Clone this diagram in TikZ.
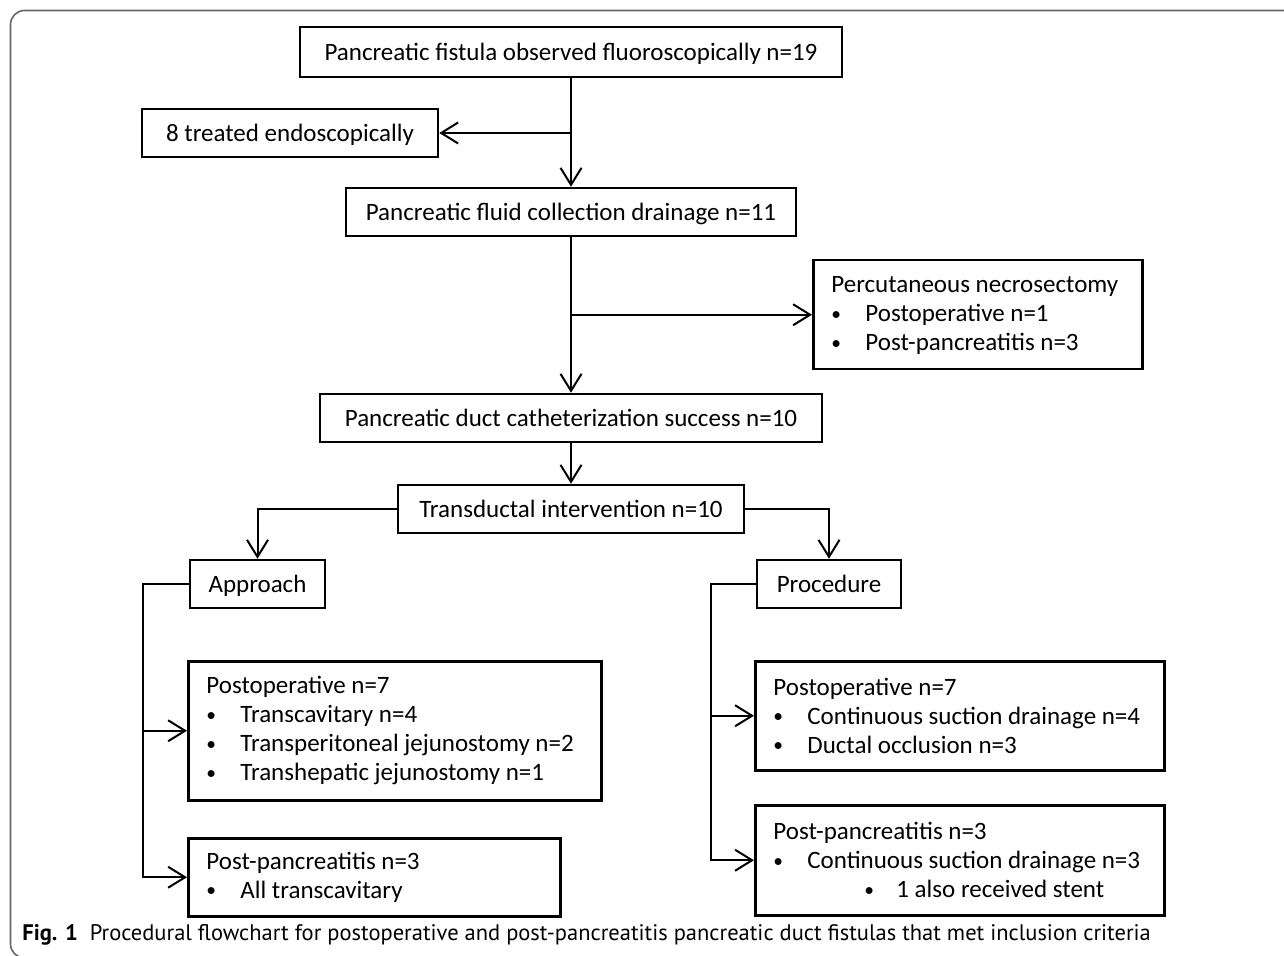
\documentclass[tikz,border=0pt]{standalone}
\usepackage{fontspec}
\setmainfont{Carlito}
\newfontfamily\capfont{PT Sans}
\usetikzlibrary{arrows.meta}
\newcommand\bl{\makebox[17pt][l]{\raisebox{0.07em}{\scalebox{0.78}{\textbullet}}}}
\newcommand\sbl{\hspace*{45.5pt}\makebox[16pt][l]{\raisebox{0.07em}{\scalebox{0.78}{\textbullet}}}}
\begin{document}
\begin{tikzpicture}[x=0.5pt,y=-0.5pt,
  txt/.style={font=\fontsize{12.5}{14.5}\selectfont},
  box/.style={draw, line width=1.25pt, inner sep=0pt, txt, text height=0.9em, text depth=0.08em},
  frm/.style={draw, line width=1.25pt, inner sep=0pt, anchor=north west},
  ltext/.style={txt, align=flush left, inner sep=0pt, anchor=west},
  conn/.style={line width=1pt},
  arr/.style={conn, -{Straight Barb[length=8.5pt,width=10.5pt,line width=1pt]}},
  frame/.style={draw=black!60, line width=0.8pt}]
\useasboundingbox (0,0) rectangle (1284,956);
\draw[frame, rounded corners=7pt] (1300,10.5) -- (10.5,10.5) -- (10.5,958) -- (40,958);

\node[box, minimum width=271pt, minimum height=25pt] (b1) at (571,52) {Pancreatic fistula observed fluoroscopically n=19};
\node[box, minimum width=148pt, minimum height=24pt] (endo) at (290,133) {8 treated endoscopically};
\node[box, minimum width=225pt, minimum height=24pt] (b2) at (571,212) {Pancreatic fluid collection drainage n=11};
\node[frm, minimum width=164.5pt, minimum height=54.5pt] (necro) at (812,259) {};
\node[ltext] (necroT) at ([xshift=9.5pt,yshift=-0.5pt]necro.west)
  {Percutaneous necrosectomy\\ \bl Postoperative n=1\\ \bl Post-pancreatitis n=3};
\node[box, minimum width=251pt, minimum height=24pt] (b4) at (571,418) {Pancreatic duct catheterization success n=10};
\node[box, minimum width=173pt, minimum height=24pt] (trans) at (571,509) {Transductal intervention n=10};
\node[box, minimum width=67.5pt, minimum height=24pt] (appr) at (257.5,584) {Approach};
\node[box, minimum width=72pt, minimum height=24pt] (proc) at (829,584) {Procedure};
\node[frm, minimum width=206.5pt, minimum height=69.5pt] (opL) at (187,660) {};
\node[ltext] (opLT) at ([xshift=9.5pt]opL.west)
  {Postoperative n=7\\ \bl Transcavitary n=4\\ \bl Transperitoneal jejunostomy n=2\\ \bl Transhepatic jejunostomy n=1};
\node[frm, minimum width=186pt, minimum height=39pt] (pancL) at (187,837) {};
\node[ltext] (pancLT) at ([xshift=9.5pt]pancL.west)
  {Post-pancreatitis n=3\\ \bl All transcavitary};
\node[frm, minimum width=204.5pt, minimum height=54.5pt] (opR) at (754,660) {};
\node[ltext] (opRT) at ([xshift=9.5pt]opR.west)
  {Postoperative n=7\\ \bl Continuous suction drainage n=4\\ \bl Ductal occlusion n=3};
\node[frm, minimum width=204.5pt, minimum height=55pt] (pancR) at (754,804) {};
\node[ltext] (pancRT) at ([xshift=9.5pt]pancR.west)
  {Post-pancreatitis n=3\\ \bl Continuous suction drainage n=3\\ \sbl 1 also received stent};

\node[anchor=west, inner sep=0pt, font=\capfont\fontsize{11.25}{13}\selectfont] (cap) at (22,935)
  {\textbf{Fig. 1}\hspace{6pt}Procedural flowchart for postoperative and post-pancreatitis pancreatic duct fistulas that met inclusion criteria};

\coordinate (j1) at (b1.south |- endo.east);
\coordinate (j2) at (b2.south |- necro.west);
\coordinate (aL) at (143,584);
\coordinate (pL) at (711,584);

\draw[arr] (b1.south) -- (b2.north);
\draw[arr] (j1) -- (endo.east);
\draw[arr] (b2.south) -- (b4.north);
\draw[arr] (j2) -- (necro.west);
\draw[arr] (b4.south) -- (trans.north);
\draw[arr] (trans.west) -| (appr.north);
\draw[arr] (trans.east) -| (proc.north);
\draw[arr] (appr.west) -- (aL) |- (pancL.west);
\draw[arr] (aL |- opL.west) -- (opL.west);
\draw[arr] (proc.west) -- (pL) |- (pancR.west);
\draw[arr] (pL |- opR.west) -- (opR.west);
\end{tikzpicture}
\end{document}
